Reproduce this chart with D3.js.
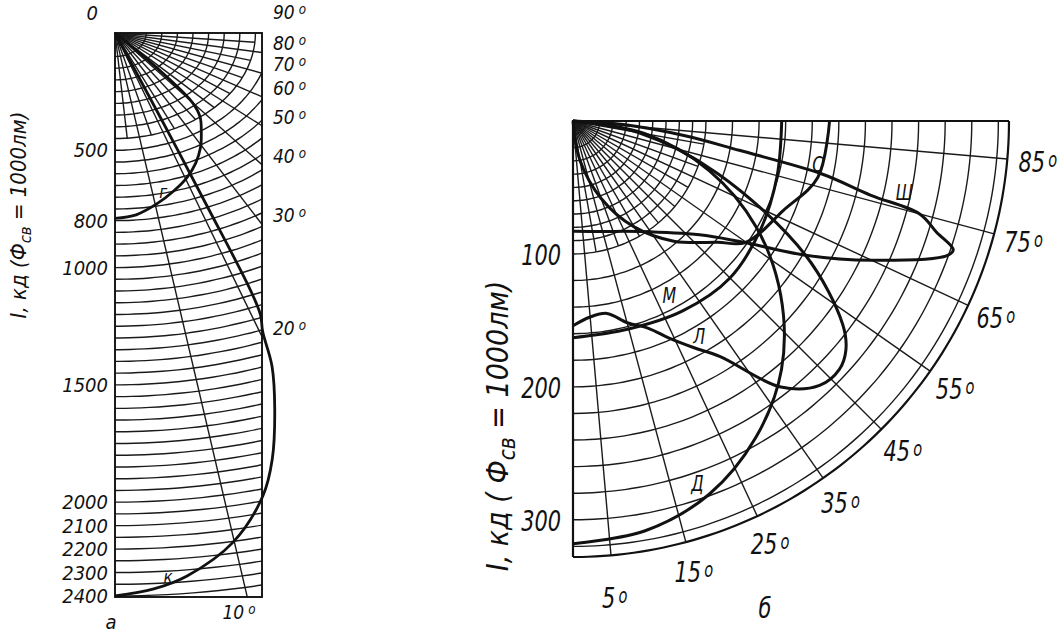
<!DOCTYPE html>
<html>
<head>
<meta charset="utf-8">
<script src="https://cdn.jsdelivr.net/npm/d3@7"></script>
<style>
  body { margin: 0; background: #fff; }
  text { font-family: "DejaVu Sans Condensed", "DejaVu Sans", sans-serif; font-style: italic; fill: #111; }
</style>
</head>
<body>
<svg id="chart" width="1058" height="635"></svg>
<script>
// ---- chart "а": deep / concentrated curves (cd per 1000 lm) ----
var leftTicks = [0, 500, 800, 1000, 1500, 2000, 2100, 2200, 2300, 2400];
var leftAngles = [90, 80, 70, 60, 50, 40, 30, 20, 10];
var curveG = [[0, 790], [5, 778], [10.5, 740], [15.5, 700], [20.6, 657], [25, 612], [29.3, 560],
  [33, 508], [37.3, 450], [39.9, 388], [41.6, 250], [43, 117], [44, 0]];
var curveK = [[0, 2400], [3, 2373], [5.7, 2326], [9.9, 2203], [13.5, 2030], [15.5, 1886], [17.7, 1684],
  [19.5, 1508], [20.4, 1358], [21.2, 1290], [21.6, 1180], [21.8, 800], [22, 400], [22.2, 0]];
var leftCurveLabels = [["г", 12.8, 700], ["к", 4.2, 2330]];

// ---- chart "б": wider curves ----
var rightTicks = [100, 200, 300];
var rightAngles = [5, 15, 25, 35, 45, 55, 65, 75, 85];
var curveD = [[0, 318], [10, 313], [20, 299], [30, 275], [40, 244], [50, 204], [60, 159], [70, 109], [80, 55], [90, 0]];
var curveM = [[0, 163], [15, 162], [30, 165], [45, 167], [60, 163], [75, 159], [90, 157]];
var curveL = [[0, 154], [5, 148], [10, 147], [15, 157], [20, 166], [24, 179], [28, 193], [32, 209], [38, 254],
  [43, 272], [47, 274], [50, 268], [53, 254], [60, 202], [70, 116], [80, 50], [90, 0]];
var curveSh = [[0, 83], [15, 86], [31, 97], [48, 128], [54, 154], [60, 202], [65, 248], [70.2, 299], [71.3, 302],
  [73, 286], [75, 270], [76, 231], [78, 191], [80, 127], [82.5, 85], [86, 38], [90, 0]];
var curveS = [[0, 0], [10, 30], [20, 62], [30, 92], [40, 118], [50, 142], [55, 159], [67, 172], [77, 189], [90, 193]];
var rightCurveLabels = [["С", 79.9, 187], ["Ш", 77.8, 255], ["М", 28.9, 150], ["Л", 30.3, 188], ["Д", 18.9, 289]];

var svg = d3.select("#chart");
var rad = Math.PI / 180;
var smooth = d3.line().curve(d3.curveCatmullRom.alpha(0.5));
var straight = d3.line();

function label(g, x, y, str, size, sx, anchor) {
  return g.append("text")
    .attr("transform", "translate(" + x + "," + y + ") scale(" + sx + ",1)")
    .attr("text-anchor", anchor || "middle")
    .style("font-size", size + "px")
    .text(str);
}
function degree(t) {
  t.append("tspan").attr("dx", 4).attr("dy", -5).style("font-size", "0.7em").text("o");
}

// ================= chart а =================
var A = { ox: 115, oy: 33, w: 147, h: 564, kx: 1.33 };
var rA = d3.scaleLinear().domain([0, 2400]).range([0, 563]);
function posA(deg, v) {
  var r = rA(v);
  return [A.ox + A.kx * r * Math.sin(deg * rad), A.oy + r * Math.cos(deg * rad)];
}
var ga = svg.append("g");
svg.append("clipPath").attr("id", "clipA").append("rect")
  .attr("x", A.ox).attr("y", A.oy).attr("width", A.w).attr("height", A.h);
var gridA = ga.append("g").attr("clip-path", "url(#clipA)")
  .attr("fill", "none").attr("stroke", "#1a1a1a").attr("stroke-width", 1.4);

// arcs every 50 cd
gridA.selectAll("path.arc").data(d3.range(50, 2401, 50)).enter().append("path")
  .attr("d", function(v) { return smooth(d3.range(0, 90.1, 2).map(function(t) { return posA(t, v); })); });
// radials
gridA.selectAll("path.rad").data(d3.range(5, 90, 5)).enter().append("path")
  .attr("d", function(t) { return straight([posA(t, 0), posA(t, t % 10 === 0 ? 6000 : 450)]); });

ga.append("rect").attr("x", A.ox).attr("y", A.oy).attr("width", A.w).attr("height", A.h)
  .attr("fill", "none").attr("stroke", "#111").attr("stroke-width", 1.9);

[curveG, curveK].forEach(function(c) {
  ga.append("path").attr("d", smooth(c.map(function(p) { return posA(p[0], p[1]); })))
    .attr("fill", "none").attr("stroke", "#111").attr("stroke-width", 2.8);
});

leftTicks.forEach(function(v) {
  var y = v === 0 ? A.oy - 20 : A.oy + rA(v);
  label(ga, A.ox - 7 - (v === 0 ? 10 : 0), y + 7, v, 20, 1, "end");
});
leftAngles.forEach(function(t) {
  var t1;
  if (t === 10) {
    var p = posA(t, 2400 / Math.cos(t * rad));
    t1 = label(ga, p[0] - 8, A.oy + A.h + 22, t, 19, 1, "middle");
  } else {
    var yh = t === 90 ? A.oy - 20 : A.oy + A.w / (A.kx * Math.tan(t * rad)) - 8;
    t1 = label(ga, A.ox + A.w + 11, yh + 6, t, 19, 1, "start");
  }
  degree(t1);
});
leftCurveLabels.forEach(function(d) {
  var p = posA(d[1], d[2]);
  label(ga, p[0], p[1] + 5, d[0], 17, 1, "middle");
});
var tA = ga.append("text").attr("transform", "translate(26,215) rotate(-90)")
  .attr("text-anchor", "middle").style("font-size", "22px");
tA.append("tspan").text("I, кд (Ф");
tA.append("tspan").attr("dy", 5).style("font-size", "0.75em").text("св");
tA.append("tspan").attr("dy", -5).text(" = 1000лм)");
label(ga, 111, 629, "а", 20, 1, "middle");

// ================= chart б =================
var B = { ox: 573, oy: 121 };
var rB = d3.scaleLinear().domain([0, 328]).range([0, 436]);
function posB(deg, v) {
  var r = rB(v);
  return [B.ox + r * Math.sin(deg * rad), B.oy + r * Math.cos(deg * rad)];
}
var gb = svg.append("g");
var gridB = gb.append("g").attr("fill", "none").attr("stroke", "#1a1a1a").attr("stroke-width", 1.4);
var arcVals = d3.range(10, 101, 10).concat(d3.range(120, 321, 20));
gridB.selectAll("path.arc").data(arcVals).enter().append("path")
  .attr("d", function(v) { return smooth(d3.range(0, 90.1, 2).map(function(t) { return posB(t, v); })); });
gridB.selectAll("path.rad").data(d3.range(5, 90, 5)).enter().append("path")
  .attr("d", function(t) { return straight([posB(t, 0), posB(t, t % 10 === 0 ? 100 : 328)]); });

// frame: two edges and outer arc
gb.append("path")
  .attr("d", straight([posB(0, 328), posB(0, 0), posB(90, 328)]) + smooth(d3.range(0, 90.1, 2).map(function(t) { return posB(t, 328); })))
  .attr("fill", "none").attr("stroke", "#111").attr("stroke-width", 2.2);

[curveD, curveM, curveL, curveSh, curveS].forEach(function(c) {
  gb.append("path").attr("d", smooth(c.map(function(p) { return posB(p[0], p[1]); })))
    .attr("fill", "none").attr("stroke", "#111").attr("stroke-width", 3);
});

rightTicks.forEach(function(v) {
  label(gb, B.ox - 12, B.oy + rB(v) + 11, v, 29, 0.8, "end");
});
rightAngles.forEach(function(t) {
  var p = posB(t, t === 5 ? 360 : 351);
  degree(label(gb, p[0], p[1] + 10, t, 29, 0.8, "middle"));
});
rightCurveLabels.forEach(function(d) {
  var p = posB(d[1], d[2]);
  label(gb, p[0], p[1] + 7, d[0], 22, 0.8, "middle");
});
var tB = gb.append("text").attr("transform", "translate(508,426) rotate(-90)")
  .attr("text-anchor", "middle").style("font-size", "30px");
tB.append("tspan").text("I, кд ( Ф");
tB.append("tspan").attr("dy", 7).style("font-size", "0.75em").text("св");
tB.append("tspan").attr("dy", -7).text(" = 1000лм)");
label(gb, 765, 618, "б", 29, 0.8, "middle");
</script>
</body>
</html>
